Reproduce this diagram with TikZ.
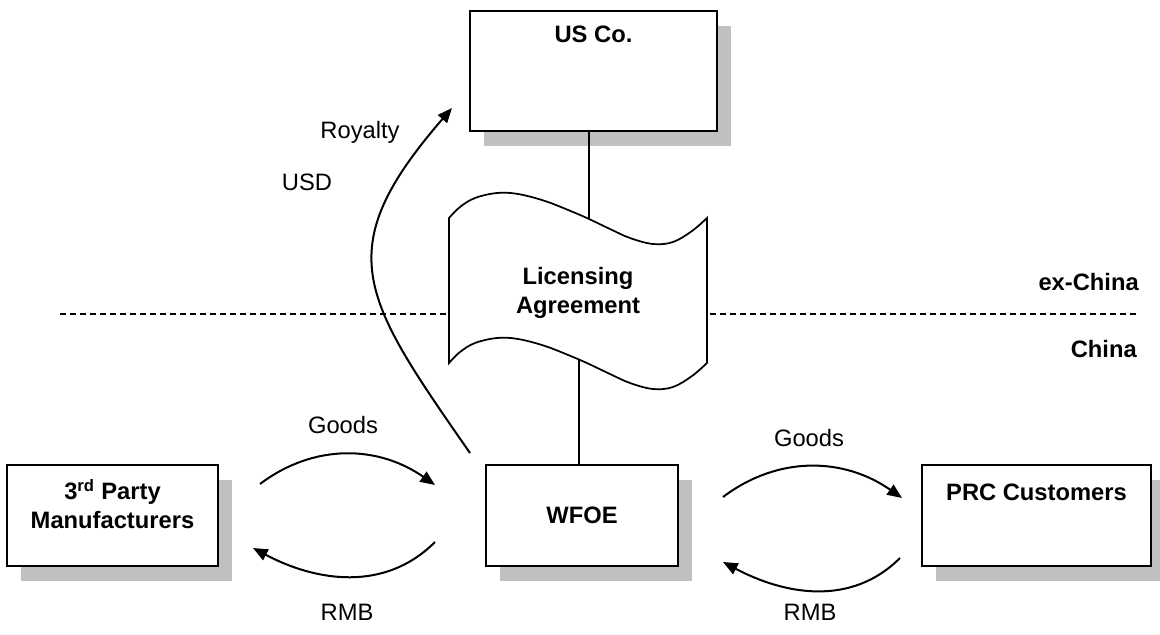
\documentclass[tikz,border=0pt]{standalone}
\usepackage{fontspec}
\setmainfont{Liberation Sans}
\usetikzlibrary{positioning,arrows.meta,shadows}
\definecolor{shadowgray}{RGB}{192,192,192}
\newcommand{\dfont}{\fontsize{17.8pt}{21.8pt}\selectfont}
\tikzset{
  box/.style={draw, line width=1.3pt, fill=white, inner sep=0pt,
    minimum height=75.75pt,
    drop shadow={shadow xshift=10.5pt, shadow yshift=-11.25pt, fill=shadowgray, opacity=1}},
  boxtext/.style={font=\dfont\bfseries, inner sep=0pt, align=center},
  lbl/.style={font=\dfont, inner sep=0pt},
  flow/.style={line width=1.5pt, -{Triangle[length=11pt,width=9pt]}},
  link/.style={line width=1.2pt},
}
\begin{document}
\begin{tikzpicture}[x=0.75pt, y=-0.75pt]
\useasboundingbox (0,0) rectangle (1160,635);

% border line
\coordinate (divl) at (60,314);
\coordinate (divr) at (1140,314);
\draw[line width=1pt, dash pattern=on 4.5pt off 3pt] (divl) -- (divr);
\node[boxtext, anchor=east] (exchina) at (1139,282) {ex-China};
\node[boxtext, anchor=east] (china) at (1137,349) {China};

% boxes
\node[box, minimum width=185.25pt, minimum height=90pt] (usco) at (593.5,71) {};
\node[boxtext, below=12pt of usco.north] (uscotext) {US Co.};

\node[box, boxtext, minimum width=144pt, minimum height=75.75pt] (wfoe) at (582,515.5) {WFOE};

\node[box, minimum width=158.25pt] (mfr) at (112.5,515.5) {};
\node[boxtext, below=11pt of mfr.north] (mfrtext) {3\textsuperscript{rd} Party\\Manufacturers};

\node[box, minimum width=171.75pt] (prc) at (1036.5,515.5) {};
\node[boxtext, below=15pt of prc.north] (prctext) {PRC Customers};

% licensing agreement
\coordinate (lictop) at (589,228);
\coordinate (licbot) at (579,360);
\draw[link] (lictop |- usco.south) -- (lictop);
\draw[link] (licbot) -- (licbot |- wfoe.north);
\draw[line width=1.3pt, fill=white]
  plot[smooth, tension=0.6] coordinates {(449,218) (460,207) (475,198) (497,193)
    (518,194) (545,201) (573,212) (589,219) (610,229) (630,238) (653,244)
    (673,242) (692,231) (707,218)}
  -- plot[smooth, tension=0.6] coordinates {(707,363) (692,376) (673,387)
    (653,389) (630,383) (610,374) (589,364) (573,357) (545,346) (518,339)
    (497,338) (475,343) (460,352) (449,363)}
  -- cycle;
\node[boxtext] (lic) at (578,293) {Licensing\\Agreement};

% royalty
\coordinate (roystart) at (470,453);
\coordinate (royend) at (452,108);
\draw[flow] (roystart) .. controls (361.7,297.2) and (328.5,250.5) .. (royend);
\node[lbl] (royalty) at (360,132) {Royalty};
\node[lbl] (usd) at (307,182) {USD};

% goods and money
\coordinate (gl1) at (260,484);
\coordinate (gl2) at (435,485);
\coordinate (ml1) at (435,542);
\coordinate (ml2) at (253,548);
\draw[flow] (gl1) to[out=37,in=145] (gl2);
\draw[flow] (ml1) to[out=-135,in=-28] (ml2);
\node[lbl] (goodsl) at (343,425) {Goods};
\node[lbl] (rmbl) at (347,612) {RMB};

\coordinate (gr1) at (723,497);
\coordinate (gr2) at (902,498);
\coordinate (mr1) at (900,558);
\coordinate (mr2) at (723,562);
\draw[flow] (gr1) to[out=37,in=145] (gr2);
\draw[flow] (mr1) to[out=-135,in=-28] (mr2);
\node[lbl] (goodsr) at (809,438) {Goods};
\node[lbl] (rmbr) at (810,612) {RMB};
\end{tikzpicture}
\end{document}
